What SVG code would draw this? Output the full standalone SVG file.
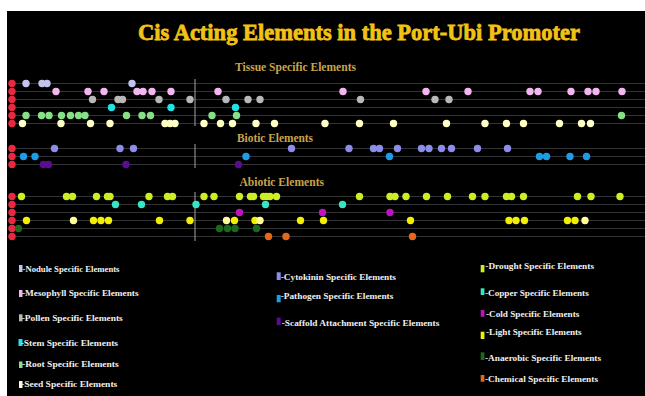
<svg xmlns="http://www.w3.org/2000/svg" width="645" height="396" viewBox="0 0 645 396">
<defs>
<style>
.bg{fill:#000}
.title{font-family:"Liberation Serif",serif;font-weight:bold;fill:#F2C214;stroke:#F2C214;stroke-width:0.8}
.sec{font-family:"Liberation Serif",serif;font-weight:bold;fill:#C9A449}
.leg{font-family:"Liberation Serif",serif;font-weight:bold;font-size:9px;fill:#F0F0F0}
.track{stroke:#333;stroke-width:1}
.vline{stroke:#8a8a8a;stroke-width:1.2}
.red{fill:#E8283F}
.nod{fill:#C3C3EE}.mes{fill:#F2B6F0}.pol{fill:#B8B8B8}.stem{fill:#22E2E6}.root{fill:#86E086}.seed{fill:#FFFFC6}
.cyt{fill:#8C8CEC}.pat{fill:#1E9CE6}.sca{fill:#5A0C94}
.dro{fill:#CCEE22}.cop{fill:#36E4C6}.cold{fill:#C012C0}.light{fill:#F2F000}.pale{fill:#FFFF9A}.ana{fill:#1B6A1B}.chem{fill:#E8681A}
</style>
</defs>
<rect x="0" y="0" width="645" height="396" fill="#fff"/>
<rect class="bg" x="7" y="11" width="638" height="385"/>
<text class="title" x="138" y="40" font-size="24" textLength="442" lengthAdjust="spacingAndGlyphs">Cis Acting Elements in the Port-Ubi Promoter</text>
<text class="sec" x="235" y="70.5" font-size="11.5" textLength="121" lengthAdjust="spacingAndGlyphs">Tissue Specific Elements</text>
<text class="sec" x="237" y="141.5" font-size="11.5" textLength="76" lengthAdjust="spacingAndGlyphs">Biotic Elements</text>
<text class="sec" x="239.5" y="186" font-size="11.5" textLength="84.5" lengthAdjust="spacingAndGlyphs">Abiotic Elements</text>
<g id="connectors">
<path class="track" d="M12 83.5H645M12 91.5H645M12 99.5H645M12 107.5H645M12 115.5H645M12 123.5H645"/>
<path class="track" d="M12 148.5H645M12 156.5H645M12 164.5H645"/>
<path class="track" d="M12 196.5H645M12 204.5H645M12 212.5H645M12 220.5H645M12 228.5H645M12 236.5H645"/>
<path class="vline" d="M195 79V126M195 144V168M195 192V241"/>
</g>
<g id="red-markers" class="red">
<circle cx="12" cy="83.5" r="3.7"/><circle cx="12" cy="91.5" r="3.7"/><circle cx="12" cy="99.5" r="3.7"/><circle cx="12" cy="107.5" r="3.7"/><circle cx="12" cy="115.5" r="3.7"/><circle cx="12" cy="123.5" r="3.7"/>
<circle cx="12" cy="148.5" r="3.7"/><circle cx="12" cy="156.5" r="3.7"/><circle cx="12" cy="164.5" r="3.7"/>
<circle cx="12" cy="196.5" r="3.7"/><circle cx="12" cy="204.5" r="3.7"/><circle cx="12" cy="212.5" r="3.7"/><circle cx="12" cy="220.5" r="3.7"/><circle cx="12" cy="228.5" r="3.7"/><circle cx="12" cy="236.5" r="3.7"/>
</g>
<g id="row-nodule" class="nod">
<circle cx="26" cy="83.5" r="3.7"/><circle cx="42" cy="83.5" r="3.7"/><circle cx="47" cy="83.5" r="3.7"/><circle cx="132" cy="83.5" r="3.7"/>
</g>
<g id="row-mesophyll" class="mes">
<circle cx="56" cy="91.5" r="3.7"/><circle cx="88" cy="91.5" r="3.7"/><circle cx="104" cy="91.5" r="3.7"/><circle cx="137" cy="91.5" r="3.7"/><circle cx="143" cy="91.5" r="3.7"/><circle cx="152" cy="91.5" r="3.7"/><circle cx="171" cy="91.5" r="3.7"/><circle cx="218" cy="91.5" r="3.7"/><circle cx="343" cy="91.5" r="3.7"/><circle cx="426" cy="91.5" r="3.7"/><circle cx="468" cy="91.5" r="3.7"/><circle cx="530" cy="91.5" r="3.7"/><circle cx="538" cy="91.5" r="3.7"/><circle cx="571" cy="91.5" r="3.7"/><circle cx="588" cy="91.5" r="3.7"/><circle cx="596" cy="91.5" r="3.7"/><circle cx="622" cy="91.5" r="3.7"/>
</g>
<g id="row-pollen" class="pol">
<circle cx="92.5" cy="99.5" r="3.7"/><circle cx="118" cy="99.5" r="3.7"/><circle cx="122.5" cy="99.5" r="3.7"/><circle cx="159" cy="99.5" r="3.7"/><circle cx="190" cy="99.5" r="3.7"/><circle cx="226" cy="99.5" r="3.7"/><circle cx="248" cy="99.5" r="3.7"/><circle cx="260" cy="99.5" r="3.7"/><circle cx="360.5" cy="99.5" r="3.7"/><circle cx="435" cy="99.5" r="3.7"/><circle cx="449" cy="99.5" r="3.7"/>
</g>
<g id="row-stem" class="stem">
<circle cx="111.5" cy="107.5" r="3.7"/><circle cx="171" cy="107.5" r="3.7"/><circle cx="235.5" cy="107.5" r="3.7"/>
</g>
<g id="row-root" class="root">
<circle cx="26" cy="115.5" r="3.7"/><circle cx="41.5" cy="115.5" r="3.7"/><circle cx="49" cy="115.5" r="3.7"/><circle cx="61.5" cy="115.5" r="3.7"/><circle cx="70.5" cy="115.5" r="3.7"/><circle cx="78.5" cy="115.5" r="3.7"/><circle cx="85" cy="115.5" r="3.7"/><circle cx="126.5" cy="115.5" r="3.7"/><circle cx="142" cy="115.5" r="3.7"/><circle cx="150.5" cy="115.5" r="3.7"/><circle cx="212" cy="115.5" r="3.7"/><circle cx="236.5" cy="115.5" r="3.7"/><circle cx="621.5" cy="115.5" r="3.7"/>
</g>
<g id="row-seed" class="seed">
<circle cx="22.5" cy="123.5" r="3.7"/><circle cx="61" cy="123.5" r="3.7"/><circle cx="90.5" cy="123.5" r="3.7"/><circle cx="110" cy="123.5" r="3.7"/><circle cx="165" cy="123.5" r="3.7"/><circle cx="170" cy="123.5" r="3.7"/><circle cx="175" cy="123.5" r="3.7"/><circle cx="204" cy="123.5" r="3.7"/><circle cx="220.5" cy="123.5" r="3.7"/><circle cx="232.5" cy="123.5" r="3.7"/><circle cx="256" cy="123.5" r="3.7"/><circle cx="274.5" cy="123.5" r="3.7"/><circle cx="325" cy="123.5" r="3.7"/><circle cx="359.5" cy="123.5" r="3.7"/><circle cx="393.5" cy="123.5" r="3.7"/><circle cx="446.5" cy="123.5" r="3.7"/><circle cx="485" cy="123.5" r="3.7"/><circle cx="506.5" cy="123.5" r="3.7"/><circle cx="523.5" cy="123.5" r="3.7"/><circle cx="559.5" cy="123.5" r="3.7"/><circle cx="581.5" cy="123.5" r="3.7"/><circle cx="590.5" cy="123.5" r="3.7"/>
</g>
<g id="row-cytokinin" class="cyt">
<circle cx="54.5" cy="148.5" r="3.7"/><circle cx="120" cy="148.5" r="3.7"/><circle cx="133.5" cy="148.5" r="3.7"/><circle cx="291.5" cy="148.5" r="3.7"/><circle cx="349" cy="148.5" r="3.7"/><circle cx="373.5" cy="148.5" r="3.7"/><circle cx="379.5" cy="148.5" r="3.7"/><circle cx="397.5" cy="148.5" r="3.7"/><circle cx="421.5" cy="148.5" r="3.7"/><circle cx="429" cy="148.5" r="3.7"/><circle cx="441.5" cy="148.5" r="3.7"/><circle cx="451.5" cy="148.5" r="3.7"/><circle cx="477.5" cy="148.5" r="3.7"/><circle cx="507.5" cy="148.5" r="3.7"/>
</g>
<g id="row-pathogen" class="pat">
<circle cx="23.5" cy="156.5" r="3.7"/><circle cx="35" cy="156.5" r="3.7"/><circle cx="246" cy="156.5" r="3.7"/><circle cx="389.5" cy="156.5" r="3.7"/><circle cx="539.5" cy="156.5" r="3.7"/><circle cx="546.5" cy="156.5" r="3.7"/><circle cx="570" cy="156.5" r="3.7"/><circle cx="586.5" cy="156.5" r="3.7"/>
</g>
<g id="row-scaffold" class="sca">
<circle cx="43.5" cy="164.5" r="3.7"/><circle cx="48.5" cy="164.5" r="3.7"/><circle cx="126" cy="164.5" r="3.7"/><circle cx="238.5" cy="164.5" r="3.7"/>
</g>
<g id="row-drought" class="dro">
<circle cx="21.5" cy="196.5" r="3.7"/><circle cx="66.5" cy="196.5" r="3.7"/><circle cx="72.5" cy="196.5" r="3.7"/><circle cx="96.5" cy="196.5" r="3.7"/><circle cx="107.5" cy="196.5" r="3.7"/><circle cx="110" cy="196.5" r="3.7"/><circle cx="149" cy="196.5" r="3.7"/><circle cx="167.5" cy="196.5" r="3.7"/><circle cx="172.5" cy="196.5" r="3.7"/><circle cx="204" cy="196.5" r="3.7"/><circle cx="214" cy="196.5" r="3.7"/><circle cx="239.5" cy="196.5" r="3.7"/><circle cx="250.5" cy="196.5" r="3.7"/><circle cx="253.5" cy="196.5" r="3.7"/><circle cx="263.5" cy="196.5" r="3.7"/><circle cx="266.5" cy="196.5" r="3.7"/><circle cx="270" cy="196.5" r="3.7"/><circle cx="276.5" cy="196.5" r="3.7"/><circle cx="359.5" cy="196.5" r="3.7"/><circle cx="390" cy="196.5" r="3.7"/><circle cx="395" cy="196.5" r="3.7"/><circle cx="406" cy="196.5" r="3.7"/><circle cx="426.5" cy="196.5" r="3.7"/><circle cx="447.5" cy="196.5" r="3.7"/><circle cx="472.5" cy="196.5" r="3.7"/><circle cx="485" cy="196.5" r="3.7"/><circle cx="506.5" cy="196.5" r="3.7"/><circle cx="511.5" cy="196.5" r="3.7"/><circle cx="523.5" cy="196.5" r="3.7"/><circle cx="577.5" cy="196.5" r="3.7"/><circle cx="591" cy="196.5" r="3.7"/><circle cx="620" cy="196.5" r="3.7"/>
</g>
<g id="row-copper" class="cop">
<circle cx="115.5" cy="204.5" r="3.7"/><circle cx="141.5" cy="204.5" r="3.7"/><circle cx="196" cy="204.5" r="3.7"/><circle cx="265.5" cy="204.5" r="3.7"/><circle cx="342.5" cy="204.5" r="3.7"/>
</g>
<g id="row-cold" class="cold">
<circle cx="239.5" cy="212.5" r="3.7"/><circle cx="322.5" cy="212.5" r="3.7"/><circle cx="390" cy="212.5" r="3.7"/>
</g>
<g id="row-light" class="light">
<circle cx="26.5" cy="220.5" r="3.7"/><circle class="pale" cx="73.5" cy="220.5" r="3.7"/><circle cx="93.5" cy="220.5" r="3.7"/><circle cx="101" cy="220.5" r="3.7"/><circle cx="108.5" cy="220.5" r="3.7"/><circle cx="159.5" cy="220.5" r="3.7"/><circle cx="190" cy="220.5" r="3.7"/><circle class="pale" cx="226.5" cy="220.5" r="3.7"/><circle cx="234.5" cy="220.5" r="3.7"/><circle cx="255" cy="220.5" r="3.7"/><circle class="pale" cx="260" cy="220.5" r="3.7"/><circle cx="300.5" cy="220.5" r="3.7"/><circle cx="323.5" cy="220.5" r="3.7"/><circle cx="410.5" cy="220.5" r="3.7"/><circle cx="509" cy="220.5" r="3.7"/><circle cx="516" cy="220.5" r="3.7"/><circle cx="524.5" cy="220.5" r="3.7"/><circle cx="567.5" cy="220.5" r="3.7"/><circle cx="575" cy="220.5" r="3.7"/><circle class="pale" cx="585" cy="220.5" r="3.7"/>
</g>
<g id="row-anaerobic" class="ana">
<circle cx="18.5" cy="228.5" r="3.7"/><circle cx="219.5" cy="228.5" r="3.7"/><circle cx="227.5" cy="228.5" r="3.7"/><circle cx="235" cy="228.5" r="3.7"/><circle cx="256.5" cy="228.5" r="3.7"/>
</g>
<g id="row-chemical" class="chem">
<circle cx="268.5" cy="236.5" r="3.7"/><circle cx="286" cy="236.5" r="3.7"/><circle cx="412.5" cy="236.5" r="3.7"/>
</g>
<g id="legend-nodule"><rect class="nod" x="19" y="265" width="3.5" height="7"/><text class="leg" x="22.5" y="271.5" textLength="97" lengthAdjust="spacingAndGlyphs">-Nodule Specific Elements</text></g>
<g id="legend-mesophyll"><rect class="mes" x="19" y="290" width="3.5" height="7"/><text class="leg" x="22" y="296" textLength="116.5" lengthAdjust="spacingAndGlyphs">-Mesophyll Specific Elements</text></g>
<g id="legend-pollen"><rect class="pol" x="19" y="314.3" width="3.5" height="7"/><text class="leg" x="21.7" y="320.5" textLength="101" lengthAdjust="spacingAndGlyphs">-Pollen Specific Elements</text></g>
<g id="legend-stem"><rect class="stem" x="18.5" y="339" width="4" height="7"/><text class="leg" x="20.7" y="346" textLength="97.3" lengthAdjust="spacingAndGlyphs">-Stem Specific Elements</text></g>
<g id="legend-root"><rect class="root" x="19" y="361.5" width="3.5" height="6.5"/><text class="leg" x="22" y="367.3" textLength="96.7" lengthAdjust="spacingAndGlyphs">-Root Specific Elements</text></g>
<g id="legend-seed"><rect class="seed" x="19" y="381" width="3.5" height="7"/><text class="leg" x="21" y="386.7" textLength="96.3" lengthAdjust="spacingAndGlyphs">-Seed Specific Elements</text></g>
<g id="legend-cytokinin"><rect class="cyt" x="276.7" y="272.3" width="4" height="7.7"/><text class="leg" x="280.7" y="280" textLength="115.3" lengthAdjust="spacingAndGlyphs">-Cytokinin Specific Elements</text></g>
<g id="legend-pathogen"><rect class="pat" x="276.7" y="295" width="4" height="7.3"/><text class="leg" x="280.7" y="299.3" textLength="112.6" lengthAdjust="spacingAndGlyphs">-Pathogen Specific Elements</text></g>
<g id="legend-scaffold"><rect class="sca" x="276.7" y="317.7" width="4" height="7.3"/><text class="leg" x="281.7" y="325.7" textLength="157.6" lengthAdjust="spacingAndGlyphs">-Scaffold Attachment Specific Elements</text></g>
<g id="legend-drought"><rect class="dro" x="480.7" y="265" width="3.7" height="7.3"/><text class="leg" x="485.3" y="269.3" textLength="108.7" lengthAdjust="spacingAndGlyphs">-Drought Specific Elements</text></g>
<g id="legend-copper"><rect class="cop" x="480.7" y="288.3" width="3.7" height="6.7"/><text class="leg" x="485" y="295.7" textLength="103.7" lengthAdjust="spacingAndGlyphs">-Copper Specific Elements</text></g>
<g id="legend-cold"><rect class="cold" x="480.7" y="310" width="3.7" height="6.7"/><text class="leg" x="486" y="316.7" textLength="93.3" lengthAdjust="spacingAndGlyphs">-Cold Specific Elements</text></g>
<g id="legend-light"><rect class="light" x="480.7" y="331.7" width="3.7" height="7.3"/><text class="leg" x="486" y="335" textLength="95.7" lengthAdjust="spacingAndGlyphs">-Light Specific Elements</text></g>
<g id="legend-anaerobic"><rect class="ana" x="480.7" y="352.3" width="3.7" height="7.7"/><text class="leg" x="485" y="361" textLength="116" lengthAdjust="spacingAndGlyphs">-Anaerobic Specific Elements</text></g>
<g id="legend-chemical"><rect class="chem" x="480.7" y="375" width="3.7" height="6.7"/><text class="leg" x="485" y="381.7" textLength="113" lengthAdjust="spacingAndGlyphs">-Chemical Specific Elements</text></g>
</svg>
